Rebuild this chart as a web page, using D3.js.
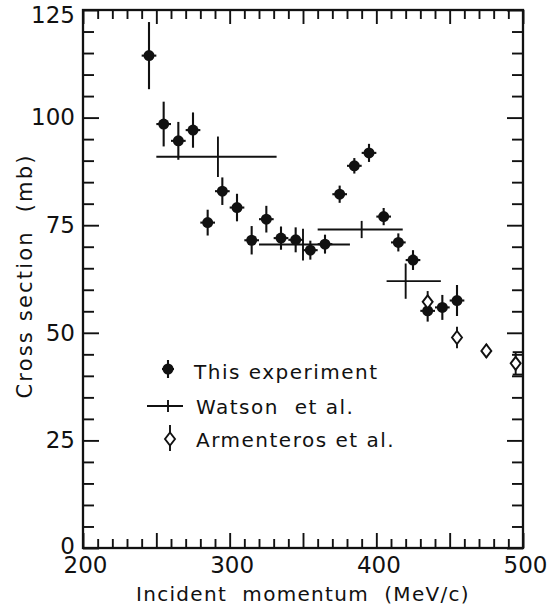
<!DOCTYPE html>
<html>
<head>
<meta charset="utf-8">
<script src="https://cdn.jsdelivr.net/npm/d3@7"></script>
<style>
  html, body { margin: 0; padding: 0; background: #fff; }
  svg { display: block; font-family: "DejaVu Sans", sans-serif; }
</style>
</head>
<body>
<svg id="chart" width="552" height="607"></svg>
<script>
// This experiment: incident momentum (MeV/c), cross section (mb), error (mb)
const expMomentum = [245, 255, 265, 275, 285, 295, 305, 315, 325, 335, 345, 355, 365, 375, 385, 395, 405, 415, 425, 435, 445, 455];
const expCross    = [114.4, 98.5, 94.6, 97.1, 75.6, 82.9, 79.1, 71.5, 76.4, 72.0, 71.6, 69.2, 70.6, 82.2, 88.8, 91.8, 77.0, 71.0, 66.9, 55.1, 55.9, 57.5];
const expErr      = [7.8, 5.2, 4.4, 4.1, 3.0, 3.2, 3.2, 3.3, 3.1, 2.7, 2.9, 2.2, 2.2, 2.0, 1.8, 2.1, 2.0, 2.1, 2.3, 2.5, 2.9, 3.6];
const expBinHalf  = 5; // half width of each momentum bin (MeV/c)

// Watson et al.: momentum interval, central momentum, cross section, error
const watsonLo       = [250, 320, 360, 407];
const watsonHi       = [332, 382, 418, 444];
const watsonMomentum = [292, 350, 390, 420];
const watsonCross    = [90.9, 70.5, 74.0, 62.0];
const watsonErr      = [4.7, 3.7, 2.0, 4.1];

// Armenteros et al.
const armMomentum = [435, 455, 475, 495];
const armCross    = [57.2, 48.9, 45.8, 42.9];
const armErr      = [2.5, 2.5, 1.6, 2.6];

// Axis labelling
const xTickLabels = [200, 300, 400, 500];
const yTickLabels = [0, 25, 50, 75, 100, 125];
const xTitle = "Incident  momentum  (MeV/c)";
const yTitle = "Cross section  (mb)";
const legendLabels = ["This experiment", "Watson  et al.", "Armenteros et al."];

const svg = d3.select("#chart");
const plotL = 83, plotR = 523, plotT = 10, plotB = 548;
const x = d3.scaleLinear().domain([200, 500]).range([plotL, plotR]);
const y = d3.scaleLinear().domain([0, 125]).range([plotB, plotT]);

const ink = "#111";
const lw = 1.9;

// ---- axes: inward ticks on all four sides ----
const xTicks = d3.range(200, 501, 10);
const yTicks = d3.range(0, 126, 5);

const gBottom = svg.append("g").attr("transform", `translate(0,${plotB})`)
  .call(d3.axisBottom(x).tickValues(xTicks).tickSize(-9).tickPadding(9)
        .tickFormat(d => xTickLabels.includes(d) ? d : ""));
gBottom.selectAll(".tick line").attr("y2", d => d % 50 === 0 ? -15 : -9);
gBottom.selectAll(".tick text").attr("dx", 2);

const gTop = svg.append("g").attr("transform", `translate(0,${plotT})`)
  .call(d3.axisTop(x).tickValues(xTicks).tickSize(-9).tickFormat(""));
gTop.selectAll(".tick line").attr("y2", d => d % 50 === 0 ? 14 : 9);

const gLeft = svg.append("g").attr("transform", `translate(${plotL},0)`)
  .call(d3.axisLeft(y).tickValues(yTicks).tickSize(-11).tickPadding(8)
        .tickFormat(d => yTickLabels.includes(d) ? d : ""));
gLeft.selectAll(".tick line").attr("x2", d => d % 25 === 0 ? 16 : 11);
// keep the end labels clear of the page edge and of the x labels
gLeft.selectAll(".tick text")
  .attr("y", d => d === 125 ? 5 : d === 0 ? -2 : 0);

const gRight = svg.append("g").attr("transform", `translate(${plotR},0)`)
  .call(d3.axisRight(y).tickValues(yTicks).tickSize(-11).tickFormat(""));
gRight.selectAll(".tick line").attr("x2", d => d % 25 === 0 ? -16 : -11);

[gBottom, gTop, gLeft, gRight].forEach(g => {
  g.select(".domain").remove();
  g.selectAll(".tick line").attr("stroke", ink).attr("stroke-width", lw);
  g.selectAll(".tick text").attr("fill", ink).attr("font-size", 23)
    .attr("font-family", "DejaVu Sans, sans-serif");
});

// frame
svg.append("rect")
  .attr("x", plotL).attr("y", plotT)
  .attr("width", plotR - plotL).attr("height", plotB - plotT)
  .attr("fill", "none").attr("stroke", ink).attr("stroke-width", 2.3);

// axis titles
svg.append("text")
  .attr("x", (plotL + plotR) / 2).attr("y", 601)
  .attr("text-anchor", "middle").attr("font-size", 20)
  .attr("letter-spacing", 1.3).attr("fill", ink)
  .attr("style", "white-space:pre")
  .text(xTitle);

svg.append("text")
  .attr("transform", `translate(32,${(plotT + plotB) / 2 - 3}) rotate(-90)`)
  .attr("text-anchor", "middle").attr("font-size", 21)
  .attr("letter-spacing", 2.2).attr("fill", ink)
  .attr("style", "white-space:pre")
  .text(yTitle);

// ---- Watson et al.: horizontal momentum interval with vertical error ----
const watson = watsonLo.map((lo, i) => ({
  lo, hi: watsonHi[i], p: watsonMomentum[i], c: watsonCross[i], e: watsonErr[i]
}));
const gW = svg.append("g").attr("stroke", ink).attr("stroke-width", lw);
gW.selectAll(".wh").data(watson).join("line").attr("class", "wh")
  .attr("x1", d => x(d.lo)).attr("x2", d => x(d.hi))
  .attr("y1", d => y(d.c)).attr("y2", d => y(d.c));
gW.selectAll(".wv").data(watson).join("line").attr("class", "wv")
  .attr("x1", d => x(d.p)).attr("x2", d => x(d.p))
  .attr("y1", d => y(d.c - d.e)).attr("y2", d => y(d.c + d.e));

// ---- This experiment: filled dots with error crosses ----
const exp = expMomentum.map((p, i) => ({ p, c: expCross[i], e: expErr[i] }));
const gE = svg.append("g");
gE.selectAll(".ev").data(exp).join("line").attr("class", "ev")
  .attr("stroke", ink).attr("stroke-width", 2.1)
  .attr("x1", d => x(d.p)).attr("x2", d => x(d.p))
  .attr("y1", d => y(d.c - d.e)).attr("y2", d => y(d.c + d.e));
gE.selectAll(".eh").data(exp).join("line").attr("class", "eh")
  .attr("stroke", ink).attr("stroke-width", 2.1)
  .attr("x1", d => x(d.p - expBinHalf)).attr("x2", d => x(d.p + expBinHalf))
  .attr("y1", d => y(d.c)).attr("y2", d => y(d.c));
gE.selectAll("circle").data(exp).join("circle")
  .attr("cx", d => x(d.p)).attr("cy", d => y(d.c)).attr("r", 5.5)
  .attr("fill", ink);

// ---- Armenteros et al.: open diamonds with error bars ----
const arm = armMomentum.map((p, i) => ({ p, c: armCross[i], e: armErr[i] }));
const diamond = (cx, cy) => `M${cx},${cy - 6.5}L${cx + 5},${cy}L${cx},${cy + 6.5}L${cx - 5},${cy}Z`;
const gA = svg.append("g").attr("stroke", ink).attr("stroke-width", lw);
gA.selectAll(".av").data(arm).join("line").attr("class", "av")
  .attr("x1", d => x(d.p)).attr("x2", d => x(d.p))
  .attr("y1", d => y(d.c - d.e)).attr("y2", d => y(d.c + d.e));
// end caps on the highest-momentum point
const lastArm = arm[arm.length - 1];
[lastArm.c - lastArm.e, lastArm.c + lastArm.e].forEach(v => {
  gA.append("line")
    .attr("x1", x(lastArm.p) - 3).attr("x2", plotR)
    .attr("y1", y(v)).attr("y2", y(v));
});
gA.selectAll("path").data(arm).join("path")
  .attr("d", d => diamond(x(d.p), y(d.c)))
  .attr("fill", "#fff");

// ---- legend ----
const gL = svg.append("g").attr("fill", ink);
// row 1: filled dot
gL.append("line").attr("x1", 168).attr("x2", 168).attr("y1", 360).attr("y2", 378)
  .attr("stroke", ink).attr("stroke-width", 2.1);
gL.append("line").attr("x1", 162).attr("x2", 174).attr("y1", 369).attr("y2", 369)
  .attr("stroke", ink).attr("stroke-width", 2.1);
gL.append("circle").attr("cx", 168).attr("cy", 369).attr("r", 5.5);
// row 2: Watson bar
gL.append("line").attr("x1", 147).attr("x2", 183).attr("y1", 406).attr("y2", 406)
  .attr("stroke", ink).attr("stroke-width", lw);
gL.append("line").attr("x1", 168).attr("x2", 168).attr("y1", 400).attr("y2", 412)
  .attr("stroke", ink).attr("stroke-width", lw);
// row 3: open diamond
gL.append("line").attr("x1", 170).attr("x2", 170).attr("y1", 425).attr("y2", 451)
  .attr("stroke", ink).attr("stroke-width", lw);
gL.append("path").attr("d", diamond(170, 439))
  .attr("fill", "#fff").attr("stroke", ink).attr("stroke-width", lw);

const legendY = [379, 414, 447];
gL.selectAll("text").data(legendLabels).join("text")
  .attr("x", (d, i) => i === 0 ? 194 : 196)
  .attr("y", (d, i) => legendY[i])
  .attr("font-size", 20).attr("letter-spacing", 1.5)
  .attr("style", "white-space:pre")
  .text(d => d);
</script>
</body>
</html>
